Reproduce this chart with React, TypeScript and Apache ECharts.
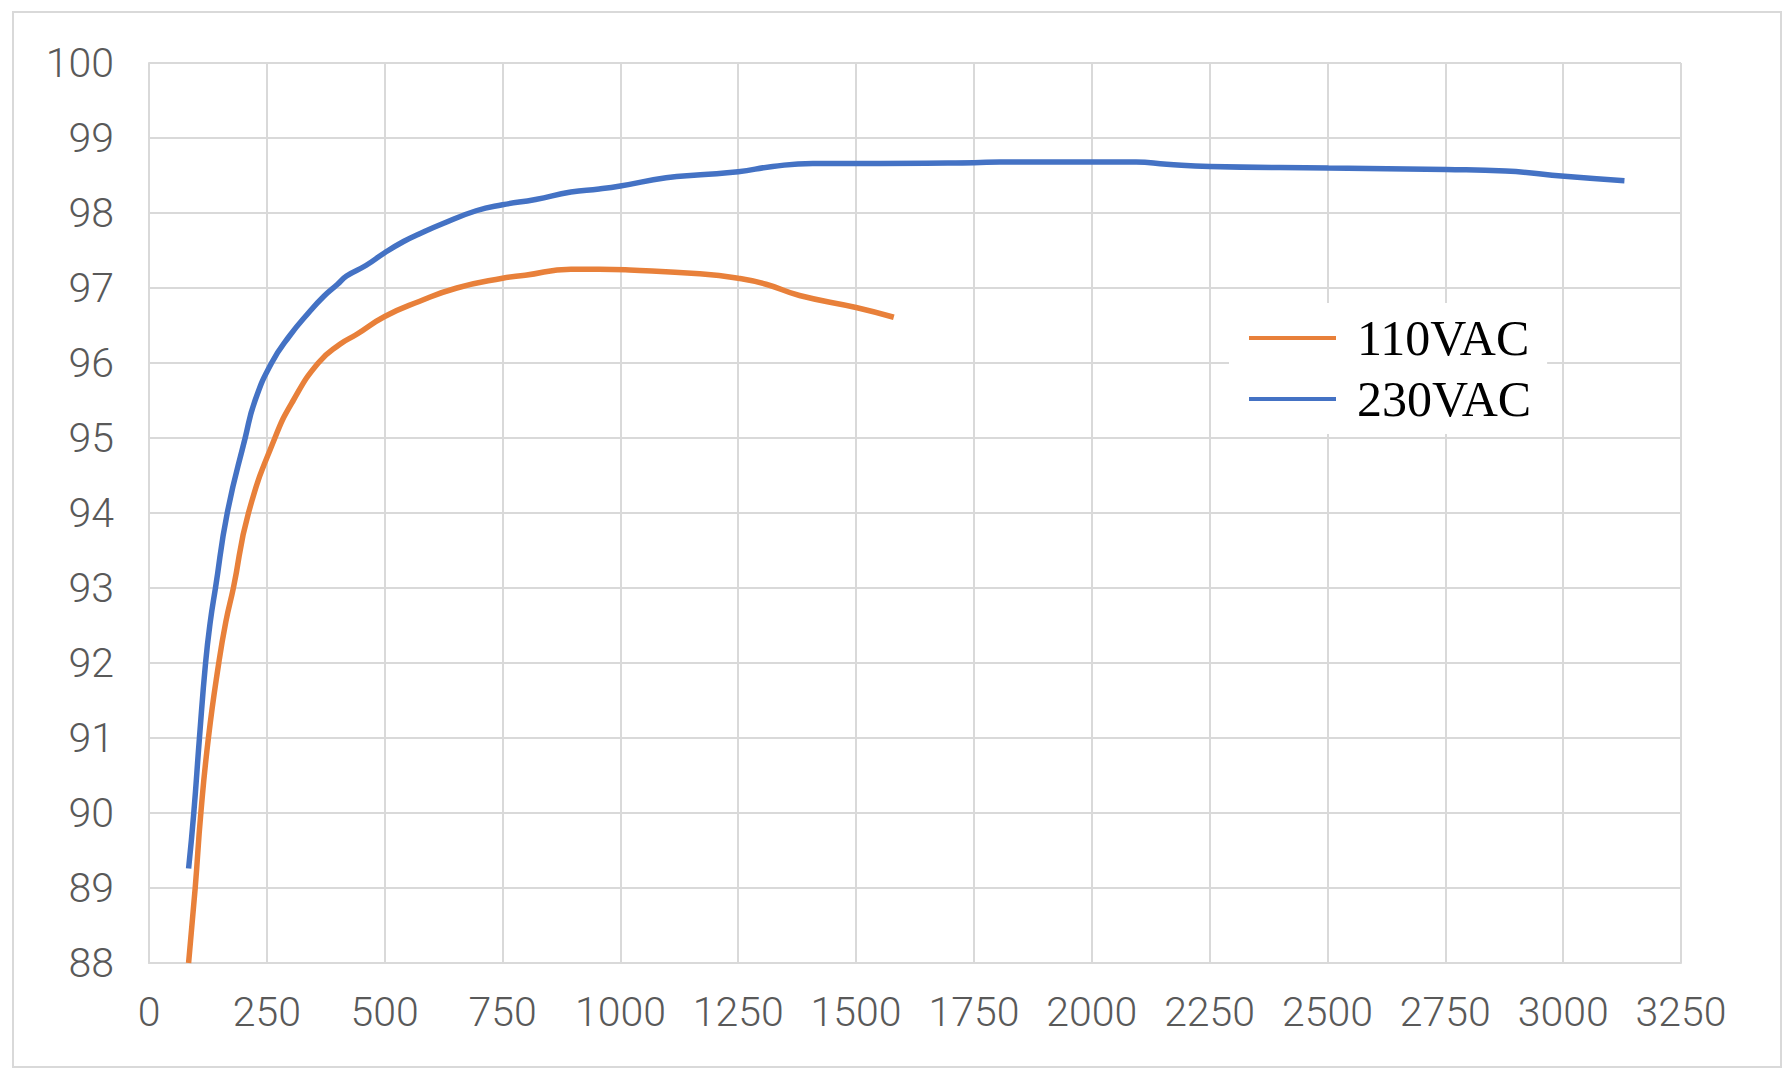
import React, { useEffect, useRef } from "react";
import * as echarts from "echarts";

const seriesNames = ["110VAC", "230VAC"];

const vac110: [number, number][] = [
  [84, 88.0], [98, 89.0], [110, 90.0], [126, 91.0], [148, 92.0], [163, 92.55],
  [179, 93.0], [211, 94.0], [267, 95.0], [306, 95.5], [359, 96.0], [405, 96.25],
  [440, 96.38], [500, 96.62], [573, 96.82], [653, 97.0], [750, 97.13], [798, 97.17],
  [895, 97.25], [955, 97.25], [1019, 97.24], [1168, 97.19], [1250, 97.13],
  [1309, 97.05], [1380, 96.9], [1500, 96.74], [1580, 96.61],
];

const vac230: [number, number][] = [
  [84, 89.26], [95, 90.0], [107, 91.0], [120, 92.0], [130, 92.55], [141, 93.0],
  [166, 94.0], [204, 95.0], [225, 95.5], [260, 96.0], [298, 96.36], [340, 96.68],
  [371, 96.89], [400, 97.05], [419, 97.16], [460, 97.3], [500, 97.47], [540, 97.62],
  [573, 97.72], [620, 97.85], [694, 98.03], [750, 98.11], [820, 98.18], [895, 98.28],
  [955, 98.32], [1000, 98.36], [1097, 98.47], [1170, 98.51], [1250, 98.55],
  [1323, 98.62], [1408, 98.66], [1500, 98.66], [1750, 98.67], [1805, 98.68],
  [2000, 98.68], [2094, 98.68], [2159, 98.65], [2250, 98.62], [2502, 98.6],
  [2751, 98.58], [2878, 98.56], [3003, 98.49], [3130, 98.43],
];

const xRange = { min: 0, max: 3250, step: 250 };
const yRange = { min: 88, max: 100, step: 1 };

export default function App() {
  const ref = useRef<HTMLDivElement>(null);
  useEffect(() => {
    document.body.style.margin = "0";
    const chart = echarts.init(ref.current!, undefined, { renderer: "svg" });
    const gridColor = "#d9d9d9";
    const labelStyle = {
      color: "#595959",
      fontSize: 41,
      fontFamily: "Roboto",
      fontWeight: 300 as any,
    };
    chart.setOption({
      animation: false,
      backgroundColor: "#ffffff",
      grid: { left: 149, top: 63, right: 111, bottom: 115, containLabel: false },
      graphic: [
        {
          type: "rect",
          z: -10,
          shape: { x: 13, y: 12, width: 1768, height: 1055 },
          style: { fill: "none", stroke: gridColor, lineWidth: 2 },
          silent: true,
        },
      ],
      xAxis: {
        type: "value",
        min: xRange.min,
        max: xRange.max,
        interval: xRange.step,
        axisLine: { show: true, lineStyle: { color: gridColor, width: 2 } },
        axisTick: { show: false },
        splitLine: { show: true, lineStyle: { color: gridColor, width: 2 } },
        axisLabel: { ...labelStyle, margin: 28, formatter: (v: number) => String(v) },
      },
      yAxis: {
        type: "value",
        min: yRange.min,
        max: yRange.max,
        interval: yRange.step,
        axisLine: { show: true, lineStyle: { color: gridColor, width: 2 } },
        axisTick: { show: false },
        splitLine: { show: true, lineStyle: { color: gridColor, width: 2 } },
        axisLabel: { ...labelStyle, margin: 35, formatter: (v: number) => String(v) },
      },
      legend: {
        data: seriesNames,
        orient: "vertical",
        left: 1229,
        top: 303,
        backgroundColor: "#ffffff",
        padding: [8, 16, 8, 20],
        itemGap: 7,
        itemWidth: 87,
        itemHeight: 4,
        icon: "rect",
        textStyle: {
          fontFamily: "Liberation Serif",
          fontSize: 50,
          lineHeight: 54,
          color: "#000000",
          padding: [0, 0, 0, 16],
        },
      },
      series: [
        {
          name: seriesNames[0],
          type: "line",
          data: vac110,
          showSymbol: false,
          smooth: 0.5,
          color: "#E8803A",
          lineStyle: { width: 5.5, color: "#E8803A" },
          z: 3,
        },
        {
          name: seriesNames[1],
          type: "line",
          data: vac230,
          showSymbol: false,
          smooth: 0.5,
          color: "#4472C4",
          lineStyle: { width: 5.5, color: "#4472C4" },
          z: 4,
        },
      ],
    });
    return () => chart.dispose();
  }, []);
  return <div ref={ref} style={{ width: 1792, height: 1078 }} />;
}
